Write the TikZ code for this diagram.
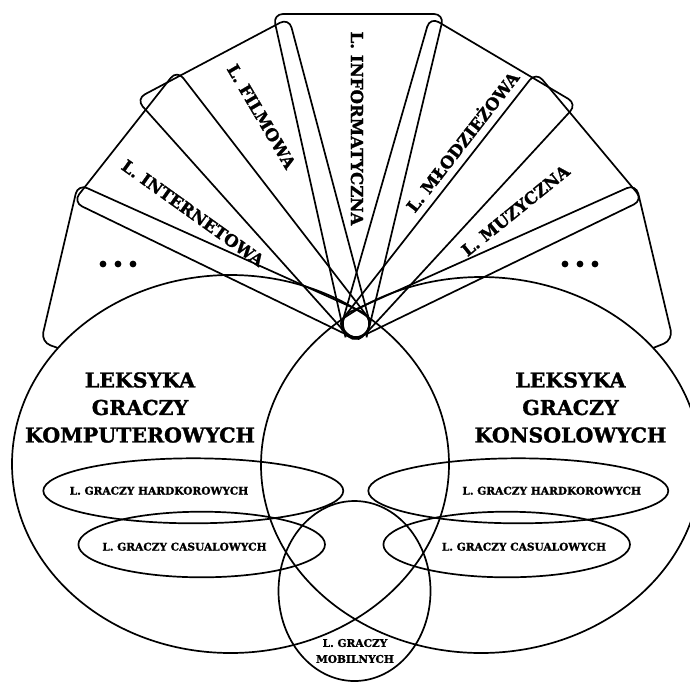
\documentclass[tikz,border=0pt]{standalone}
\usepackage{fontspec}
\setmainfont{DejaVu Serif}[BoldFont={DejaVu Serif Bold}, BoldFeatures={FakeBold=1.4}]
\usetikzlibrary{calc}

% one blade of the fan: outer corners a, b; the narrow inner end sits just past the hub (C)
\newcommand\fanblade[3]{%
  \coordinate (#1a) at #2;
  \coordinate (#1b) at #3;
  \coordinate (#1m) at ($(#1a)!0.5!(#1b)$);
  \coordinate (#1c) at ($(C)!-13pt!(#1m)$);
  \coordinate (#1ia) at ($(#1c)!11pt!90:(#1m)$);
  \coordinate (#1ib) at ($(#1c)!11pt!-90:(#1m)$);
}

\begin{document}
\begin{tikzpicture}[x=1pt,y=-1pt,
  outline/.style={line width=1.7pt, line join=round},
  blade/.style={outline},
  bigtitle/.style={font=\fontsize{20.5}{27.5}\selectfont\bfseries, align=center, inner sep=0pt},
  subtitle/.style={font=\fontsize{10.6}{16}\selectfont\bfseries, align=center, inner sep=0pt},
  bladetitle/.style={font=\fontsize{16.6}{18}\selectfont\bfseries, inner sep=0pt},
  dotmark/.style={fill, circle, inner sep=0pt, minimum size=6.8pt}]
\useasboundingbox (0,0) rectangle (690,681);
\clip (0,0) rectangle (690,681);

\coordinate (C) at (356,324);

% fan blades
\fanblade{s0}{(41,342)}{(78,184)}
\fanblade{s1}{(73,202)}{(177,70)}
\fanblade{s2}{(136,99)}{(289,18)}
\fanblade{s3}{(273,14)}{(444,14)}
\fanblade{s4}{(430,17)}{(577,104)}
\fanblade{s5}{(536,72)}{(643,200)}
\fanblade{s6}{(636,184)}{(673,340)}
\coordinate (e0) at (58,348);
\coordinate (e6) at (653,348);

% outer corners well rounded, inner ends only slightly
\draw[blade] (e0) [rounded corners=10pt] -- (s0a) -- (s0b) -- (s0ib) [rounded corners=5pt] -- (s0ia);
\foreach \s in {s1,s2,s3,s4,s5}
  \draw[blade] (\s ia) [rounded corners=10pt] -- (\s a) -- (\s b) -- (\s ib) [rounded corners=5pt] -- cycle;
\draw[blade] (e6) [rounded corners=10pt] -- (s6b) -- (s6a) -- (s6ia) [rounded corners=5pt] -- (s6ib);

% blade labels
\node[bladetitle, rotate=-35.5] (internet) at (193,213) {L. INTERNETOWA};
\node[bladetitle, rotate=-59.5] (film) at (261.5,116.5) {L. FILMOWA};
\node[bladetitle, rotate=-90] (info) at (357,128.5) {L. INFORMATYCZNA};
\node[bladetitle, rotate=52.2] (youth) at (461.5,141) {L. MŁODZIEŻOWA};
\node[bladetitle, rotate=39] (music) at (515.5,210.5) {L. MUZYCZNA};

% the open ends of the fan
\foreach \x [count=\i] in {103,118,133} \node[dotmark] (dl\i) at (\x,264) {};
\foreach \x [count=\i] in {565,580,595} \node[dotmark] (dr\i) at (\x,264) {};

% the two large sets and their subsets
\draw[outline] (230.5,464) ellipse [x radius=218.5, y radius=189];
\draw[outline] (481,465) ellipse [x radius=220, y radius=188];
\draw[outline] (193.3,490.8) ellipse [x radius=150, y radius=32.5];
\draw[outline] (201.7,544.5) ellipse [x radius=123.3, y radius=32.8];
\draw[outline] (518.3,490.8) ellipse [x radius=150, y radius=32.5];
\draw[outline] (506.7,544.5) ellipse [x radius=123.3, y radius=32.8];
\draw[outline] (354.5,591) ellipse [x radius=76, y radius=90];

\node[bigtitle] (pc) at (140,407.5) {LEKSYKA\\GRACZY\\KOMPUTEROWYCH};
\node[bigtitle] (console) at (570.5,407.5) {LEKSYKA\\GRACZY\\KONSOLOWYCH};

\node[subtitle] (pchard) at (159,490.7) {L. GRACZY HARDKOROWYCH};
\node[subtitle] (pccas) at (184.5,546.7) {L. GRACZY CASUALOWYCH};
\node[subtitle] (conhard) at (551.7,490.7) {L. GRACZY HARDKOROWYCH};
\node[subtitle] (concas) at (524,546.7) {L. GRACZY CASUALOWYCH};
\node[subtitle] (mobile) at (355,651) {L. GRACZY\\MOBILNYCH};
\end{tikzpicture}
\end{document}
